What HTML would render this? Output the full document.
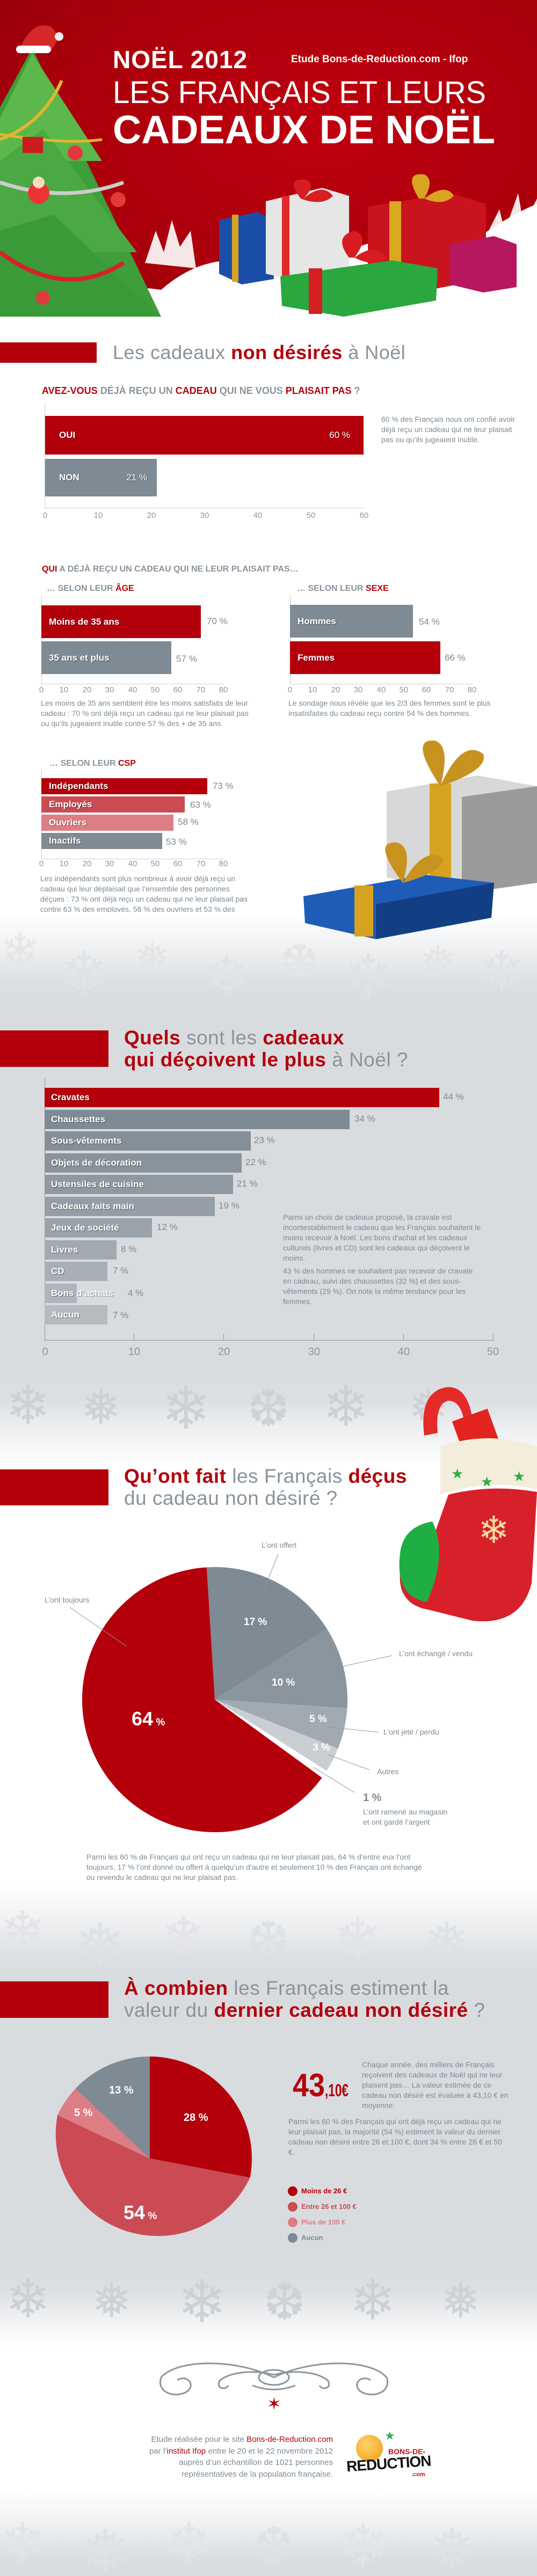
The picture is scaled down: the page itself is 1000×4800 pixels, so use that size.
<!DOCTYPE html>
<html><head><meta charset="utf-8">
<style>
*{margin:0;padding:0;box-sizing:border-box}
body{width:1000px;height:4800px;overflow:hidden;background:#fff;font-family:"Liberation Sans",sans-serif;color:#7e8a94}
#w{position:relative;width:1000px;height:4800px;overflow:hidden}
.a{position:absolute}
.r{color:#b3000b}
.b{font-weight:bold}
.bar{position:absolute;color:#fff;font-weight:bold;font-size:17px;text-shadow:1px 1px 1px rgba(0,0,0,.45);padding-left:14px;display:flex;align-items:center}
.pc{position:absolute;font-size:17px;color:#7e8a94}
.tick{position:absolute;font-size:15px;color:#8d979f;transform:translateX(-50%)}
.txt{position:absolute;font-size:14px;line-height:19px;color:#7e8a94}
.h2{position:absolute;font-size:37px;line-height:41px;color:#8a949c;letter-spacing:.5px}
.h2 b{color:#b3000b}
.rb{position:absolute;left:0;background:#b3000b}
.snow{position:absolute;left:0;width:1000px;overflow:hidden}
.fl{position:absolute;color:#eceef0;font-family:"DejaVu Sans",sans-serif}
</style></head><body><div id="w">

<!-- HEADER -->
<div class="a" style="left:0;top:0;width:1000px;height:600px;background:radial-gradient(ellipse at 60% 40%,#c0000e 0%,#a8000b 60%,#8f0008 100%)"></div>
<svg class="a" style="left:0;top:0" width="1000" height="640">
  <path d="M0 560 Q150 520 300 540 Q380 470 470 490 Q560 440 640 470 Q760 420 880 450 Q950 400 1000 380 L1000 640 L0 640Z" fill="#fff"/>
  <g fill="#fff" opacity=".9">
    <path d="M900 450 l30 -60 l10 40 l25 -70 l10 60 l25 -50 l0 120z"/>
    <path d="M270 490 l20 -60 l15 40 l15 -60 l15 50 l20 -30 l10 70z"/>
  </g>
  <polygon points="60,90 300,590 0,590 0,200" fill="#3d9e3a"/>
  <polygon points="60,100 190,300 0,300 0,220" fill="#5cb84a"/>
  <polygon points="80,240 255,470 0,470 0,300" fill="#4aa942"/>
  <polygon points="100,400 300,590 0,590 0,430" fill="#3a9a37"/>
  <path d="M0 260 Q80 230 115 150" stroke="#e2b531" stroke-width="6" fill="none"/>
  <path d="M0 250 Q120 270 190 260" stroke="#e2b531" stroke-width="5" fill="none"/>
  <path d="M0 340 Q120 380 230 340" stroke="#ccc" stroke-width="7" fill="none"/>
  <path d="M0 470 Q120 560 230 490" stroke="#d8202a" stroke-width="8" fill="none"/>
  <circle cx="140" cy="285" r="14" fill="#e23a3a"/><circle cx="220" cy="372" r="14" fill="#e23a3a"/><circle cx="80" cy="555" r="13" fill="#e23a3a"/>
  <rect x="42" y="255" width="38" height="30" fill="#cc1b1b"/>
  <circle cx="72" cy="360" r="20" fill="#e33"/><circle cx="72" cy="340" r="11" fill="#fcd9c0"/>
  <path d="M35 95 Q60 35 95 50 Q105 60 110 70 L95 95Z" fill="#d62828"/>
  <rect x="30" y="85" width="65" height="14" rx="7" fill="#fff"/>
  <circle cx="110" cy="68" r="8" fill="#eee"/>
  <polygon points="408,410 480,395 510,410 510,520 450,530 408,510" fill="#1b4ea8"/>
  <rect x="432" y="400" width="12" height="125" fill="#d9a423"/>
  <polygon points="495,375 600,350 650,365 650,510 560,525 495,510" fill="#e6e6e6"/>
  <rect x="525" y="365" width="14" height="160" fill="#e02a28"/>
  <polygon points="685,385 840,360 905,380 905,520 800,540 685,515" fill="#c9141d"/>
  <rect x="725" y="375" width="22" height="160" fill="#d8a81f"/>
  <polygon points="838,455 920,440 962,455 962,535 900,545 838,530" fill="#b7175f"/>
  <polygon points="522,515 730,485 815,500 812,560 640,590 525,570" fill="#2aa73f"/>
  <rect x="575" y="500" width="25" height="85" fill="#d42023"/>
  <path d="M650 480 q-30 -40 10 -50 q30 10 0 50 q40 -30 60 0 q-20 20 -60 0" fill="#d71d22"/>
  <path d="M780 370 q-30 -50 10 -45 q20 10 0 45 q40 -30 55 -5 q-20 20 -55 5" fill="#d9a423"/>
  <path d="M560 370 q-30 -40 10 -35 q20 10 -5 35 q35 -30 55 -5 q-20 20 -60 5" fill="#d71d22"/>
</svg>
<div class="a b" style="left:210px;top:84px;font-size:46px;color:#fff;letter-spacing:1px">NOËL 2012</div>
<div class="a b" style="left:542px;top:100px;font-size:19px;color:#fff">Etude Bons-de-Reduction.com - Ifop</div>
<svg class="a" style="left:205px;top:140px" width="790" height="140">
  <text x="5" y="52" font-family="Liberation Sans" font-size="58" fill="#fff" textLength="695" lengthAdjust="spacingAndGlyphs">LES FRANÇAIS ET LEURS</text>
  <text x="5" y="127" font-family="Liberation Sans" font-weight="bold" font-size="74" fill="#fff" textLength="712" lengthAdjust="spacingAndGlyphs">CADEAUX DE NOËL</text>
</svg>

<!-- SECTION 1 -->
<div class="rb" style="top:638px;width:180px;height:38px"></div>
<div class="h2" style="left:210px;top:636px;font-size:36px">Les cadeaux <b>non désirés</b> à Noël</div>
<div class="a b" style="left:78px;top:718px;font-size:18px;color:#8a949c">
<span class="r">AVEZ-VOUS</span> DÉJÀ REÇU UN <span class="r">CADEAU</span> QUI NE VOUS <span class="r">PLAISAIT PAS</span> ?</div>
<div class="a" style="left:83px;top:752px;width:1px;height:195px;background:#c9ced3"></div>
<div class="a" style="left:83px;top:946px;width:595px;height:1px;background:#c9ced3"></div>
<div class="bar" style="left:84px;top:775px;width:593px;height:72px;background:#b3000b;padding-left:26px">OUI<span style="position:absolute;right:25px;font-weight:normal">60 %</span></div>
<div class="bar" style="left:84px;top:855px;width:208px;height:70px;background:#7e8a94;padding-left:26px">NON<span style="position:absolute;right:18px;font-weight:normal">21 %</span></div>
<div class="tick" style="left:84px;top:952px">0</div><div class="tick" style="left:183px;top:952px">10</div><div class="tick" style="left:282px;top:952px">20</div><div class="tick" style="left:381px;top:952px">30</div><div class="tick" style="left:480px;top:952px">40</div><div class="tick" style="left:579px;top:952px">50</div><div class="tick" style="left:678px;top:952px">60</div>
<div class="txt" style="left:710px;top:772px;width:250px">60 % des Français nous ont confié avoir déjà reçu un cadeau qui ne leur plaisait pas ou qu’ils jugeaient inutile.</div>

<div class="a b" style="left:78px;top:1052px;font-size:16px;color:#8a949c"><span class="r">QUI</span> A DÉJÀ REÇU UN CADEAU QUI NE LEUR PLAISAIT PAS…</div>
<div class="a b" style="left:87px;top:1088px;font-size:16px;color:#8a949c">… SELON LEUR <span class="r">ÂGE</span></div>
<div class="a b" style="left:553px;top:1088px;font-size:16px;color:#8a949c">… SELON LEUR <span class="r">SEXE</span></div>
<div class="a" style="left:77px;top:1108px;width:1px;height:167px;background:#c9ced3"></div>
<div class="a" style="left:77px;top:1274px;width:340px;height:1px;background:#c9ced3"></div>
<div class="bar" style="left:77px;top:1128px;width:297px;height:61px;background:#b3000b">Moins de 35 ans</div>
<div class="pc" style="left:385px;top:1148px">70 %</div>
<div class="bar" style="left:77px;top:1195px;width:242px;height:61px;background:#7e8a94">35 ans et plus</div>
<div class="pc" style="left:328px;top:1218px">57 %</div>
<div class="tick" style="left:77px;top:1277px">0</div><div class="tick" style="left:119px;top:1277px">10</div><div class="tick" style="left:162px;top:1277px">20</div><div class="tick" style="left:204px;top:1277px">30</div><div class="tick" style="left:247px;top:1277px">40</div><div class="tick" style="left:289px;top:1277px">50</div><div class="tick" style="left:331px;top:1277px">60</div><div class="tick" style="left:374px;top:1277px">70</div><div class="tick" style="left:416px;top:1277px">80</div>
<div class="txt" style="left:76px;top:1301px;width:400px">Les moins de 35 ans semblent être les moins satisfaits de leur cadeau : 70 % ont déjà reçu un cadeau qui ne leur plaisait pas ou qu’ils jugeaient inutile contre 57 % des + de 35 ans.</div>
<div class="a" style="left:540px;top:1108px;width:1px;height:167px;background:#c9ced3"></div>
<div class="a" style="left:540px;top:1274px;width:340px;height:1px;background:#c9ced3"></div>
<div class="bar" style="left:540px;top:1127px;width:229px;height:61px;background:#7e8a94">Hommes</div>
<div class="pc" style="left:780px;top:1149px">54 %</div>
<div class="bar" style="left:540px;top:1195px;width:280px;height:61px;background:#b3000b">Femmes</div>
<div class="pc" style="left:828px;top:1216px">66 %</div>
<div class="tick" style="left:540px;top:1277px">0</div><div class="tick" style="left:582px;top:1277px">10</div><div class="tick" style="left:625px;top:1277px">20</div><div class="tick" style="left:667px;top:1277px">30</div><div class="tick" style="left:710px;top:1277px">40</div><div class="tick" style="left:752px;top:1277px">50</div><div class="tick" style="left:794px;top:1277px">60</div><div class="tick" style="left:837px;top:1277px">70</div><div class="tick" style="left:879px;top:1277px">80</div>
<div class="txt" style="left:537px;top:1301px;width:390px">Le sondage nous révèle que les 2/3 des femmes sont le plus insatisfaites du cadeau reçu contre 54 % des hommes.</div>
<div class="a b" style="left:92px;top:1414px;font-size:16px;color:#8a949c">… SELON LEUR <span class="r">CSP</span></div>
<div class="a" style="left:77px;top:1434px;width:1px;height:167px;background:#c9ced3"></div>
<div class="a" style="left:77px;top:1600px;width:340px;height:1px;background:#c9ced3"></div>
<div class="bar" style="left:77px;top:1450px;width:309px;height:30px;background:#b3000b">Indépendants</div><div class="pc" style="left:396px;top:1455px">73 %</div>
<div class="bar" style="left:77px;top:1484px;width:267px;height:30px;background:#cb4b55">Employés</div><div class="pc" style="left:354px;top:1490px">63 %</div>
<div class="bar" style="left:77px;top:1518px;width:246px;height:30px;background:#dc7e84">Ouvriers</div><div class="pc" style="left:331px;top:1522px">58 %</div>
<div class="bar" style="left:77px;top:1552px;width:225px;height:30px;background:#7e8a94">Inactifs</div><div class="pc" style="left:309px;top:1559px">53 %</div>
<div class="tick" style="left:77px;top:1601px">0</div><div class="tick" style="left:119px;top:1601px">10</div><div class="tick" style="left:162px;top:1601px">20</div><div class="tick" style="left:204px;top:1601px">30</div><div class="tick" style="left:247px;top:1601px">40</div><div class="tick" style="left:289px;top:1601px">50</div><div class="tick" style="left:331px;top:1601px">60</div><div class="tick" style="left:374px;top:1601px">70</div><div class="tick" style="left:416px;top:1601px">80</div>
<div class="txt" style="left:75px;top:1628px;width:400px">Les indépendants sont plus nombreux à avoir déjà reçu un cadeau qui leur déplaisait que l’ensemble des personnes déçues : 73 % ont déjà reçu un cadeau qui ne leur plaisait pas contre 63 % des employés, 58 % des ouvriers et 53 % des inactifs.</div>

<div class="snow" style="top:1700px;height:175px;background:linear-gradient(#fff 0%,#f1f2f3 35%,#dde0e3 75%,#d8dcdf 100%)">
<span class="fl" style="left:0;top:20px;font-size:90px;color:#e4e6e8">❄</span><span class="fl" style="left:110px;top:50px;font-size:110px;color:#e0e3e5">❄</span><span class="fl" style="left:250px;top:40px;font-size:80px;color:#e3e5e7">❅</span><span class="fl" style="left:380px;top:60px;font-size:100px;color:#e1e3e6">❄</span><span class="fl" style="left:520px;top:40px;font-size:90px;color:#e3e5e7">❆</span><span class="fl" style="left:640px;top:55px;font-size:110px;color:#e0e3e5">❄</span><span class="fl" style="left:780px;top:45px;font-size:85px;color:#e3e5e7">❅</span><span class="fl" style="left:890px;top:50px;font-size:105px;color:#e1e3e6">❄</span>
</div>
<svg class="a" style="left:560px;top:1375px" width="440" height="380">
  <polygon points="160,100 330,70 440,90 440,270 300,290 160,260" fill="#d8d8d8"/>
  <polygon points="300,110 440,90 440,270 300,290" fill="#9a9a9a"/>
  <rect x="240" y="85" width="40" height="200" fill="#d6a21f"/>
  <path d="M260 90 q-60 -90 -10 -85 q30 10 10 85 q40 -90 80 -60 q10 30 -80 60" fill="#c89220"/>
  <polygon points="5,295 230,255 360,270 355,335 140,375 8,345" fill="#1f5cb8"/>
  <polygon points="140,310 360,270 355,335 140,375" fill="#123f84"/>
  <rect x="100" y="275" width="35" height="95" fill="#d6a21f"/>
  <path d="M190 270 q-60 -80 -10 -75 q30 10 10 75 q40 -70 75 -45 q0 25 -75 45" fill="#c89220"/>
</svg>

<!-- SECTION 2 -->
<div class="a" style="left:0;top:1875px;width:1000px;height:690px;background:#d8dcdf"></div>
<div class="rb" style="top:1920px;width:202px;height:68px"></div>
<div class="h2" style="left:231px;top:1913px"><b>Quels</b> sont les <b>cadeaux</b><br><b>qui déçoivent le plus</b> à Noël ?</div>
<div class="a" style="left:83px;top:2008px;width:1px;height:490px;background:#8d979f"></div>
<div class="a" style="left:83px;top:2497px;width:836px;height:1px;background:#8d979f"></div>
<div class="bar" style="left:83px;top:2027px;width:735px;height:36px;background:#b3000b;padding-left:12px">Cravates</div><div class="pc" style="left:825px;top:2034px">44 %</div>
<div class="bar" style="left:83px;top:2068px;width:568px;height:36px;background:#7e8a94;padding-left:12px">Chaussettes</div><div class="pc" style="left:660px;top:2075px">34 %</div>
<div class="bar" style="left:83px;top:2108px;width:384px;height:36px;background:#848f98;padding-left:12px">Sous-vêtements</div><div class="pc" style="left:473px;top:2115px">23 %</div>
<div class="bar" style="left:83px;top:2149px;width:367px;height:36px;background:#89939c;padding-left:12px">Objets de décoration</div><div class="pc" style="left:457px;top:2156px">22 %</div>
<div class="bar" style="left:83px;top:2189px;width:351px;height:36px;background:#8f99a1;padding-left:12px">Ustensiles de cuisine</div><div class="pc" style="left:441px;top:2196px">21 %</div>
<div class="bar" style="left:83px;top:2230px;width:317px;height:36px;background:#959ea6;padding-left:12px">Cadeaux faits main</div><div class="pc" style="left:407px;top:2237px">19 %</div>
<div class="bar" style="left:83px;top:2270px;width:200px;height:36px;background:#9ba3aa;padding-left:12px">Jeux de société</div><div class="pc" style="left:292px;top:2277px">12 %</div>
<div class="bar" style="left:83px;top:2311px;width:134px;height:36px;background:#a2a9b0;padding-left:12px">Livres</div><div class="pc" style="left:225px;top:2318px">8 %</div>
<div class="bar" style="left:83px;top:2351px;width:117px;height:36px;background:#a8afb5;padding-left:12px">CD</div><div class="pc" style="left:210px;top:2358px">7 %</div>
<div class="bar" style="left:83px;top:2392px;width:60px;height:36px;background:#afb5bb;padding-left:12px;white-space:nowrap">Bons d’achats</div><div class="pc" style="left:238px;top:2400px">4 %</div>
<div class="bar" style="left:83px;top:2432px;width:117px;height:36px;background:#b6bbc0;padding-left:12px">Aucun</div><div class="pc" style="left:210px;top:2441px">7 %</div>
<div class="a" style="left:249px;top:2485px;width:1px;height:12px;background:#8d979f"></div><div class="a" style="left:416px;top:2485px;width:1px;height:12px;background:#8d979f"></div><div class="a" style="left:584px;top:2485px;width:1px;height:12px;background:#8d979f"></div><div class="a" style="left:751px;top:2485px;width:1px;height:12px;background:#8d979f"></div><div class="a" style="left:918px;top:2485px;width:1px;height:12px;background:#8d979f"></div>
<div class="tick" style="left:84px;top:2508px;font-size:20px">0</div><div class="tick" style="left:250px;top:2508px;font-size:20px">10</div><div class="tick" style="left:417px;top:2508px;font-size:20px">20</div><div class="tick" style="left:585px;top:2508px;font-size:20px">30</div><div class="tick" style="left:752px;top:2508px;font-size:20px">40</div><div class="tick" style="left:918px;top:2508px;font-size:20px">50</div>
<div class="txt" style="left:527px;top:2259px;width:370px">Parmi un choix de cadeaux proposé, la cravate est incontestablement le cadeau que les Français souhaitent le moins recevoir à Noël. Les bons d’achat et les cadeaux culturels (livres et CD) sont les cadeaux qui déçoivent le moins.<br><span style="display:block;margin-top:5px">43 % des hommes ne souhaitent pas recevoir de cravate en cadeau, suivi des chaussettes (32 %) et des sous-vêtements (29 %). On note la même tendance pour les femmes.</span></div>

<div class="snow" style="top:2560px;height:170px;background:linear-gradient(#d8dcdf 0%,#dde0e3 30%,#f0f1f2 65%,#fff 100%)">
<span class="fl" style="left:10px;top:0;font-size:100px;color:#cdd1d5">❄</span><span class="fl" style="left:150px;top:10px;font-size:90px;color:#ced2d6">❅</span><span class="fl" style="left:300px;top:0;font-size:110px;color:#cdd1d5">❄</span><span class="fl" style="left:460px;top:10px;font-size:95px;color:#ced2d6">❆</span><span class="fl" style="left:600px;top:0;font-size:105px;color:#cdd1d5">❄</span><span class="fl" style="left:760px;top:10px;font-size:90px;color:#ced2d6">❅</span>
</div>

<!-- SECTION 3 -->
<div class="rb" style="top:2738px;width:202px;height:67px"></div>
<div class="h2" style="left:231px;top:2730px"><b>Qu’ont fait</b> les Français <b>déçus</b><br>du cadeau non désiré ?</div>
<svg class="a" style="left:670px;top:2575px" width="330" height="470">
  <path d="M120 100 q-10 -80 40 -90 q40 -5 50 60 l-15 10 q-5 -45 -30 -45 q-25 5 -20 60z" fill="#e52a2a"/>
  <rect x="180" y="60" width="70" height="60" fill="#e3231f" transform="rotate(-20 215 90)"/>
  <path d="M150 120 q90 -30 180 0 l0 80 q-90 -20 -180 10z" fill="#f3eedb"/>
  <path d="M165 210 q80 -20 165 -5 l-10 170 q-20 80 -110 70 l-80 -20 q-60 -10 -55 -70 q5 -50 60 -60z" fill="#d8202a"/>
  <path d="M75 320 q5 -50 60 -60 q30 60 -10 150 q-60 -10 -50 -90z" fill="#1fae44"/>
  <text x="220" y="300" font-size="70" fill="#f3d9a0" font-family="DejaVu Sans">❄</text>
  <text x="170" y="180" font-size="26" fill="#2fae45" font-family="DejaVu Sans">★</text><text x="225" y="195" font-size="26" fill="#2fae45" font-family="DejaVu Sans">★</text><text x="285" y="185" font-size="26" fill="#2fae45" font-family="DejaVu Sans">★</text>
</svg>
<svg class="a" style="left:153px;top:2920px" width="494" height="494">
  <path d="M247 247 L231.9 0.5 A247 247 0 0 1 455.8 115 Z" fill="#7e8a94"/>
  <path d="M247 247 L455.8 115 A247 247 0 0 1 493.5 262.9 Z" fill="#8b959e"/>
  <path d="M247 247 L493.5 262.9 A247 247 0 0 1 476.5 338.3 Z" fill="#a2aab1"/>
  <path d="M247 247 L476.5 338.3 A247 247 0 0 1 455.3 379.7 Z" fill="#c9ced3"/>
  <path d="M247 247 L446.6 392.5 A247 247 0 1 1 231.9 0.5 Z" fill="#b3000b"/>
</svg>
<svg class="a" style="left:0;top:2850px" width="1000" height="520">
  <g stroke="#8d979f" stroke-width="1" fill="none">
    <line x1="518" y1="46" x2="490" y2="115"/>
    <line x1="130" y1="145" x2="236" y2="218"/>
    <line x1="597" y1="264" x2="730" y2="235"/>
    <line x1="613" y1="368" x2="706" y2="378"/>
    <line x1="612" y1="420" x2="688" y2="448"/>
    <line x1="583" y1="443" x2="660" y2="490"/>
  </g>
</svg>
<div class="a" style="left:487px;top:2871px;font-size:14px">L’ont offert</div>
<div class="a" style="left:83px;top:2973px;font-size:14px">L’ont toujours</div>
<div class="a b" style="left:454px;top:3012px;font-size:19px;color:#fff">17 %</div>
<div class="a b" style="left:506px;top:3125px;font-size:19px;color:#fff">10 %</div>
<div class="a b" style="left:245px;top:3182px;font-size:36px;color:#fff">64<span style="font-size:19px"> %</span></div>
<div class="a b" style="left:576px;top:3193px;font-size:19px;color:#fff">5 %</div>
<div class="a b" style="left:582px;top:3246px;font-size:19px;color:#fff">3 %</div>
<div class="a" style="left:743px;top:3073px;font-size:14px">L’ont échangé / vendu</div>
<div class="a" style="left:714px;top:3219px;font-size:14px">L’ont jeté / perdu</div>
<div class="a" style="left:702px;top:3293px;font-size:14px">Autres</div>
<div class="a b" style="left:676px;top:3339px;font-size:20px">1 %</div>
<div class="txt" style="left:676px;top:3367px">L’ont ramené au magasin<br>et ont gardé l’argent</div>
<div class="txt" style="left:161px;top:3451px;width:640px">Parmi les 60 % de Français qui ont reçu un cadeau qui ne leur plaisait pas, 64 % d’entre eux l’ont toujours, 17 % l’ont donné ou offert à quelqu’un d’autre et seulement 10 % des Français ont échangé ou revendu le cadeau qui ne leur plaisait pas.</div>

<div class="snow" style="top:3510px;height:180px;background:linear-gradient(#fff 0%,#f1f2f3 35%,#dde0e3 75%,#d8dcdf 100%)">
<span class="fl" style="left:0;top:30px;font-size:100px;color:#e2e4e7">❄</span><span class="fl" style="left:140px;top:50px;font-size:110px;color:#dfe2e5">❅</span><span class="fl" style="left:300px;top:40px;font-size:100px;color:#e2e4e7">❄</span><span class="fl" style="left:460px;top:50px;font-size:95px;color:#dfe2e5">❆</span><span class="fl" style="left:620px;top:40px;font-size:110px;color:#e2e4e7">❄</span><span class="fl" style="left:790px;top:50px;font-size:100px;color:#dfe2e5">❅</span>
</div>

<!-- SECTION 4 -->
<div class="a" style="left:0;top:3690px;width:1000px;height:545px;background:#d8dcdf"></div>
<div class="rb" style="top:3692px;width:202px;height:68px"></div>
<div class="h2" style="left:231px;top:3684px"><b>À combien</b> les Français estiment la<br>valeur du <b>dernier cadeau non désiré</b> ?</div>
<svg class="a" style="left:89px;top:3832px" width="380" height="380">
  <path d="M190 190 L190 0 A190 190 0 0 1 376.6 225.6 Z" fill="#b3000b"/>
  <path d="M190 190 L376.6 225.6 A190 190 0 0 1 18.1 109.1 Z" fill="#cb4b55"/>
  <path d="M190 190 L18.1 109.1 A190 190 0 0 1 51.5 59.9 Z" fill="#dc7e84"/>
  <path d="M190 190 L51.5 59.9 A190 190 0 0 1 190 0 Z" fill="#7e8a94"/>
</svg>
<div class="a b" style="left:342px;top:3935px;font-size:20px;color:#fff">28 %</div>
<div class="a b" style="left:230px;top:4102px;font-size:36px;color:#fff">54<span style="font-size:19px"> %</span></div>
<div class="a b" style="left:138px;top:3926px;font-size:20px;color:#fff">5 %</div>
<div class="a b" style="left:203px;top:3884px;font-size:20px;color:#fff">13 %</div>
<svg class="a" style="left:545px;top:3850px" width="130" height="66"><text x="0" y="56" font-family="Liberation Sans" font-weight="bold" font-size="60" fill="#b3000b" textLength="60" lengthAdjust="spacingAndGlyphs">43</text><text x="60" y="56" font-family="Liberation Sans" font-weight="bold" font-size="32" fill="#b3000b" textLength="44" lengthAdjust="spacingAndGlyphs">,10€</text></svg>
<div class="txt" style="left:674px;top:3838px;width:290px">Chaque année, des milliers de Français reçoivent des cadeaux de Noël qui ne leur plaisent pas… La valeur estimée de ce cadeau non désiré est évaluée à 43,10 € en moyenne.</div>
<div class="txt" style="left:537px;top:3944px;width:410px">Parmi les 60 % des Français qui ont déjà reçu un cadeau qui ne leur plaisait pas, la majorité (54 %) estiment la valeur du dernier cadeau non désiré entre 26 et 100 €, dont 34 % entre 26 € et 50 €.</div>
<div class="a" style="left:536px;top:4074px;width:18px;height:18px;border-radius:50%;background:#b3000b"></div><div class="a b" style="left:561px;top:4075px;font-size:13px;color:#b3000b">Moins de 26 €</div>
<div class="a" style="left:536px;top:4103px;width:18px;height:18px;border-radius:50%;background:#cb4b55"></div><div class="a b" style="left:561px;top:4104px;font-size:13px;color:#cb4b55">Entre 26 et 100 €</div>
<div class="a" style="left:536px;top:4132px;width:18px;height:18px;border-radius:50%;background:#dc7e84"></div><div class="a b" style="left:561px;top:4133px;font-size:13px;color:#dc7e84">Plus de 100 €</div>
<div class="a" style="left:536px;top:4161px;width:18px;height:18px;border-radius:50%;background:#7e8a94"></div><div class="a b" style="left:561px;top:4162px;font-size:13px;color:#7e8a94">Aucun</div>

<div class="snow" style="top:4225px;height:150px;background:linear-gradient(#d8dcdf 0%,#dde0e3 30%,#f0f1f2 65%,#fff 100%)">
<span class="fl" style="left:10px;top:0;font-size:100px;color:#cdd1d5">❄</span><span class="fl" style="left:170px;top:10px;font-size:90px;color:#ced2d6">❅</span><span class="fl" style="left:330px;top:0;font-size:110px;color:#cdd1d5">❄</span><span class="fl" style="left:490px;top:10px;font-size:95px;color:#ced2d6">❆</span><span class="fl" style="left:650px;top:0;font-size:105px;color:#cdd1d5">❄</span><span class="fl" style="left:820px;top:10px;font-size:90px;color:#ced2d6">❅</span>
</div>

<svg class="a" style="left:290px;top:4375px" width="440" height="120">
  <g fill="none" stroke="#8d979f" stroke-width="3">
    <path d="M220 55 C150 20 40 20 10 55 C0 85 40 95 60 80 C75 65 55 50 40 60"/>
    <path d="M220 55 C290 20 400 20 430 55 C440 85 400 95 380 80 C365 65 385 50 400 60"/>
    <path d="M220 50 C180 40 140 45 120 60 C110 75 130 80 135 70"/>
    <path d="M220 50 C260 40 300 45 320 60 C330 75 310 80 305 70"/>
    <ellipse cx="220" cy="55" rx="28" ry="14"/>
    <path d="M180 70 Q220 85 260 70"/>
  </g>
  <text x="207" y="115" font-size="32" fill="#b3000b" font-family="DejaVu Sans">✶</text>
</svg>

<div class="a" style="left:150px;top:4535px;width:470px;text-align:right;font-size:15px;line-height:21.5px;color:#7e8a94">Etude réalisée pour le site <span class="r">Bons-de-Reduction.com</span><br>par l’<span class="r">institut Ifop</span> entre le 20 et le 22 novembre 2012<br>auprès d’un échantillon de 1021 personnes<br>représentatives de la population française.</div>
<div class="a" style="left:663px;top:4537px;width:50px;height:50px;border-radius:50%;background:radial-gradient(circle at 40% 35%,#ffd36b,#f29a13)"></div>
<div class="a b" style="left:723px;top:4560px;font-size:14px;color:#c3141d">BONS-DE-</div>
<div class="a b" style="left:645px;top:4575px;font-size:28px;color:#111;letter-spacing:-1px;transform:rotate(-4deg)">REDUCTION</div>
<div class="a b" style="left:766px;top:4605px;font-size:11px;color:#c3141d">.com</div>
<div class="a" style="left:716px;top:4527px;font-size:22px;color:#2fae45;font-family:'DejaVu Sans'">★</div>

<div class="snow" style="top:4640px;height:160px;background:linear-gradient(#fff 0%,#eef0f1 40%,#dadee1 80%,#d8dcdf 100%)">
<span class="fl" style="left:0;top:40px;font-size:100px;color:#e2e4e7">❄</span><span class="fl" style="left:150px;top:50px;font-size:110px;color:#dfe2e5">❅</span><span class="fl" style="left:310px;top:40px;font-size:100px;color:#e2e4e7">❄</span><span class="fl" style="left:470px;top:50px;font-size:95px;color:#dfe2e5">❆</span><span class="fl" style="left:630px;top:40px;font-size:110px;color:#e2e4e7">❄</span><span class="fl" style="left:800px;top:50px;font-size:100px;color:#dfe2e5">❅</span>
</div>
</div></body></html>
